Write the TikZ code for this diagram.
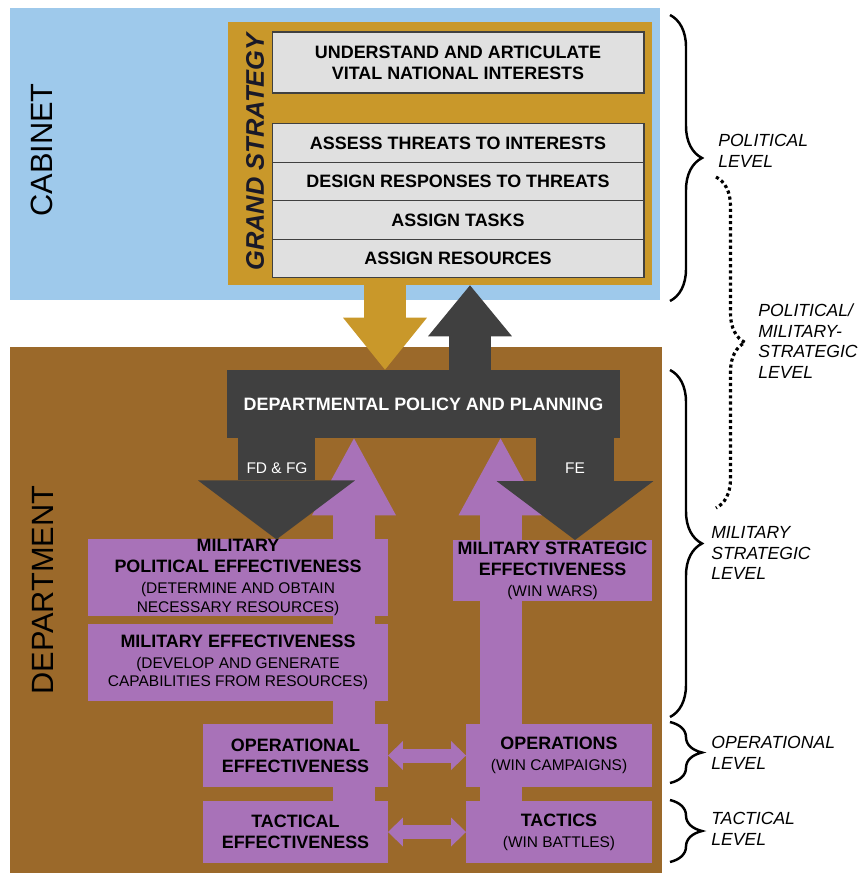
\documentclass[tikz,border=0pt]{standalone}
\usepackage{fontspec}
\setmainfont{Liberation Sans}
\usetikzlibrary{arrows.meta,decorations.pathreplacing}
\pgfdeclarelayer{areas}
\pgfdeclarelayer{links}
\pgfsetlayers{areas,links,main}
\definecolor{cabblue}{RGB}{158,201,235}
\definecolor{deptbrown}{RGB}{155,105,42}
\definecolor{gsgold}{RGB}{201,152,42}
\definecolor{gsink}{RGB}{25,25,40}
\definecolor{boxgray}{RGB}{224,224,224}
\definecolor{darkgrey}{RGB}{64,64,64}
\definecolor{effpurple}{RGB}{168,114,184}
\newcommand{\boxtxt}{\fontsize{10.2}{12}\selectfont\bfseries}
\newcommand{\subtxt}{\fontsize{8.8}{10.5}\selectfont\mdseries}
\newcommand{\lvltxt}{\fontsize{10}{11.8}\selectfont\itshape}
\newcommand{\areatxt}{\fontsize{17.5}{20}\selectfont}
\tikzset{
  taskbox/.style={draw=darkgrey, line width=0.6pt, fill=boxgray, minimum width=7.44cm, inner sep=0pt, font=\boxtxt, align=center},
  effbox/.style={fill=effpurple, inner sep=0pt, outer sep=0pt, font=\boxtxt, align=center},
  blockarrow/.style={line width=0.84cm, -{Triangle[length=#1, width=1.68cm, line width=0pt]}},
  splitarrow/.style={darkgrey, line width=1.56cm, -{Triangle[length=1.18cm, width=3.14cm, line width=0pt]}},
  linkarrow/.style={effpurple, line width=0.28cm, {Triangle[length=0.3cm, width=0.58cm, line width=0pt]}-{Triangle[length=0.3cm, width=0.58cm, line width=0pt]}},
  levelbrace/.style={decorate, decoration={brace, amplitude=0.64cm}, line width=1.4pt},
  dotbrace/.style={decorate, decoration={brace, amplitude=0.58cm}, line width=1.8pt, dash pattern=on 1.8pt off 1.7pt},
  level/.style={anchor=west, align=left, font=\lvltxt, inner sep=0pt}
}
\begin{document}
\begin{tikzpicture}[x=0.02cm, y=-0.02cm]
\useasboundingbox (0,0) rectangle (865,875);
% areas
\begin{pgfonlayer}{areas}
\fill[cabblue] (10,8) rectangle (660,300);
\fill[deptbrown] (10,347) rectangle (662,873);
\end{pgfonlayer}
\node[rotate=90, font=\areatxt] (cab) at (42,150) {CABINET};
\node[rotate=90, font=\areatxt] (dep) at (43,590) {DEPARTMENT};

% grand strategy
\node[fill=gsgold, minimum width=8.48cm, minimum height=5.26cm, inner sep=0pt] (gs) at (440,153.5) {};
\node[rotate=90, text=gsink, font=\fontsize{14.5}{16}\selectfont\bfseries\itshape] (gstitle) at (255,152) {GRAND STRATEGY};
\node[taskbox, minimum height=1.22cm] (t1) at (458,62.5) {UNDERSTAND AND ARTICULATE\\VITAL NATIONAL INTERESTS};
\foreach \y/\txt [count=\i from 2] in {143/ASSESS THREATS TO INTERESTS, 181.5/DESIGN RESPONSES TO THREATS, 220/ASSIGN TASKS, 258.5/ASSIGN RESOURCES}
  \node[taskbox, minimum height=0.77cm] (t\i) at (458,\y) {\txt};

% department
\node[fill=darkgrey, text=white, font=\boxtxt, minimum width=7.86cm, minimum height=1.36cm, inner sep=0pt] (dpp) at (423.5,404) {DEPARTMENTAL POLICY AND PLANNING};
\node[effbox, minimum width=6cm, minimum height=1.5cm] (mpe) at (238,577.5) {MILITARY\\POLITICAL EFFECTIVENESS\\\subtxt (DETERMINE AND OBTAIN\\[-1.5pt]\subtxt NECESSARY RESOURCES)};
\node[effbox, minimum width=6cm, minimum height=1.54cm] (me) at (238,662.5) {MILITARY EFFECTIVENESS\\\subtxt (DEVELOP AND GENERATE\\[-1.5pt]\subtxt CAPABILITIES FROM RESOURCES)};
\node[effbox, minimum width=3.7cm, minimum height=1.26cm] (oe) at (295.5,755.5) {OPERATIONAL\\EFFECTIVENESS};
\node[effbox, minimum width=3.7cm, minimum height=1.24cm] (te) at (295.5,832) {TACTICAL\\EFFECTIVENESS};
\node[effbox, minimum width=3.98cm, minimum height=1.22cm] (mse) at (552.5,570.5) {MILITARY STRATEGIC\\EFFECTIVENESS\\\subtxt (WIN WARS)};
\node[effbox, minimum width=3.72cm, minimum height=1.26cm] (ops) at (559,755.5) {OPERATIONS\\\subtxt (WIN CAMPAIGNS)};
\node[effbox, minimum width=3.72cm, minimum height=1.24cm] (tac) at (559,832) {TACTICS\\\subtxt (WIN BATTLES)};

% arrows
\begin{pgfonlayer}{links}
\draw[effpurple, blockarrow=1.54cm] (354,0 |- te.north) -- (354,0 |- dpp.south);
\draw[effpurple, blockarrow=1.54cm] (500.5,0 |- tac.north) -- (500.5,0 |- dpp.south);
\end{pgfonlayer}
\draw[splitarrow] (276.5,0 |- dpp.south) -- (276.5,0 |- mpe.north);
\draw[splitarrow] (575,0 |- dpp.south) -- (575,0 |- mse.north);
\node[text=white, font=\subtxt] (fdfg) at (277,468) {FD \& FG};
\node[text=white, font=\subtxt] (fe) at (575,468) {FE};
\draw[gsgold, blockarrow=1.04cm] (385,0 |- gs.south) -- (385,0 |- dpp.north);
\draw[darkgrey, blockarrow=1.02cm] (470,0 |- dpp.north) -- (470,0 |- gs.south);
\draw[linkarrow] (oe.east) -- (ops.west);
\draw[linkarrow] (te.east) -- (tac.west);

% levels
\draw[levelbrace] (670,15) -- (670,301);
\draw[dotbrace] (716,177) -- (716,508);
\draw[levelbrace] (670,370) -- (670,717);
\draw[levelbrace] (670,722) -- (670,783);
\draw[levelbrace] (670,800) -- (670,862);
\node[level] (pol) at (718,151) {POLITICAL\\LEVEL};
\node[level] (polmil) at (758,341) {POLITICAL/\\MILITARY-\\STRATEGIC\\LEVEL};
\node[level] (milstr) at (711,553) {MILITARY\\STRATEGIC\\LEVEL};
\node[level] (oper) at (711,752.5) {OPERATIONAL\\LEVEL};
\node[level] (tact) at (711,828.5) {TACTICAL\\LEVEL};
\end{tikzpicture}
\end{document}
